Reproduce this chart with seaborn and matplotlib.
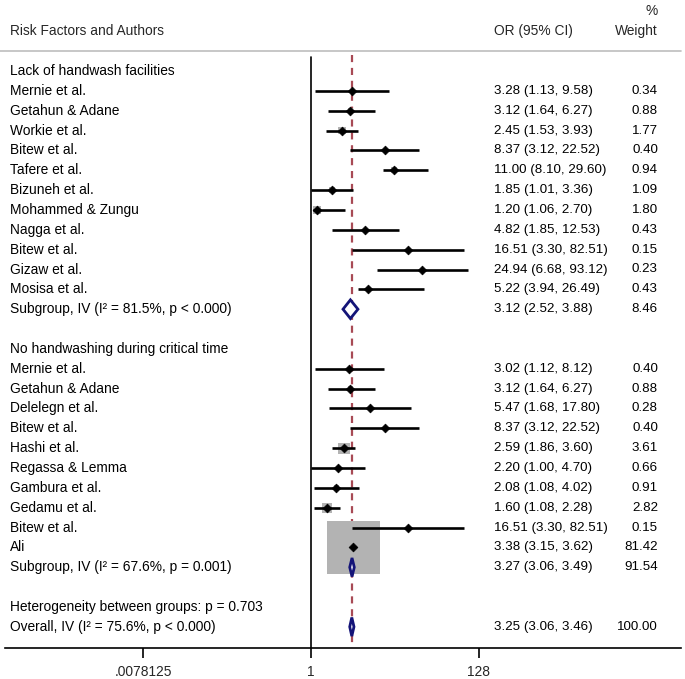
import matplotlib
matplotlib.use("Agg")
import matplotlib.pyplot as plt
import matplotlib.transforms as mtransforms
import seaborn as sns
import numpy as np
import pandas as pd

# ---------------- data ----------------
group1_name = "Lack of handwash facilities"
group1_authors = ["Mernie et al.", "Getahun & Adane", "Workie et al.", "Bitew et al.",
                  "Tafere et al.", "Bizuneh et al.", "Mohammed & Zungu", "Nagga et al.",
                  "Bitew et al.", "Gizaw et al.", "Mosisa et al."]
group1_or = [3.28, 3.12, 2.45, 8.37, 11.00, 1.85, 1.20, 4.82, 16.51, 24.94, 5.22]
group1_lo = [1.13, 1.64, 1.53, 3.12, 8.10, 1.01, 1.06, 1.85, 3.30, 6.68, 3.94]
group1_hi = [9.58, 6.27, 3.93, 22.52, 29.60, 3.36, 2.70, 12.53, 82.51, 93.12, 26.49]
group1_w = [0.34, 0.88, 1.77, 0.40, 0.94, 1.09, 1.80, 0.43, 0.15, 0.23, 0.43]
group1_pool = (3.12, 2.52, 3.88, 8.46)
group1_label = "Subgroup, IV (I\u00b2 = 81.5%, p < 0.000)"

group2_name = "No handwashing during critical time"
group2_authors = ["Mernie et al.", "Getahun & Adane", "Delelegn et al.", "Bitew et al.",
                  "Hashi et al.", "Regassa & Lemma", "Gambura et al.", "Gedamu et al.",
                  "Bitew et al.", "Ali"]
group2_or = [3.02, 3.12, 5.47, 8.37, 2.59, 2.20, 2.08, 1.60, 16.51, 3.38]
group2_lo = [1.12, 1.64, 1.68, 3.12, 1.86, 1.00, 1.08, 1.08, 3.30, 3.15]
group2_hi = [8.12, 6.27, 17.80, 22.52, 3.60, 4.70, 4.02, 2.28, 82.51, 3.62]
group2_w = [0.40, 0.88, 0.28, 0.40, 3.61, 0.66, 0.91, 2.82, 0.15, 81.42]
group2_pool = (3.27, 3.06, 3.49, 91.54)
group2_label = "Subgroup, IV (I\u00b2 = 67.6%, p = 0.001)"

heterogeneity_label = "Heterogeneity between groups: p = 0.703"
overall_label = "Overall, IV (I\u00b2 = 75.6%, p < 0.000)"
overall_pool = (3.25, 3.06, 3.46, 100.00)

x_ticks = [2.0 ** -7, 1, 2.0 ** 7]
x_tick_labels = [".0078125", "1", "128"]

# ---------------- build table ----------------
rows = []
r = 0
rows.append(dict(row=r, kind="header", label=group1_name)); r += 1
for a, o, l, h, w in zip(group1_authors, group1_or, group1_lo, group1_hi, group1_w):
    rows.append(dict(row=r, kind="study", label=a, OR=o, lo=l, hi=h, w=w)); r += 1
rows.append(dict(row=r, kind="pool", label=group1_label, OR=group1_pool[0], lo=group1_pool[1],
                 hi=group1_pool[2], w=group1_pool[3])); r += 1
r += 1
rows.append(dict(row=r, kind="header", label=group2_name)); r += 1
for a, o, l, h, w in zip(group2_authors, group2_or, group2_lo, group2_hi, group2_w):
    rows.append(dict(row=r, kind="study", label=a, OR=o, lo=l, hi=h, w=w)); r += 1
rows.append(dict(row=r, kind="pool", label=group2_label, OR=group2_pool[0], lo=group2_pool[1],
                 hi=group2_pool[2], w=group2_pool[3])); r += 1
r += 1
rows.append(dict(row=r, kind="header", label=heterogeneity_label)); r += 1
rows.append(dict(row=r, kind="pool", label=overall_label, OR=overall_pool[0], lo=overall_pool[1],
                 hi=overall_pool[2], w=overall_pool[3])); r += 1
df = pd.DataFrame(rows)
studies = df[df.kind == "study"]
pools = df[df.kind == "pool"]

# ---------------- style ----------------
sns.set_theme(style="white")
plt.rcParams['font.family'] = ['Liberation Sans', 'DejaVu Sans']
FS = 9.9
FS_NUM = 9.6

W, H = 685, 679
fig = plt.figure(figsize=(W / 100, H / 100), dpi=100)

# pixel geometry
x_left_px, x_right_px = 5, 681
axis_y_px = 648
row0_px = 71.0
row_step = 19.85
one_px = 311.0
px_per_log2 = 24.0

ax = fig.add_axes([x_left_px / W, 1 - axis_y_px / H, (x_right_px - x_left_px) / W, axis_y_px / H])
ax.set_xscale('log', base=2)
ax.set_xlim(2 ** ((x_left_px - one_px) / px_per_log2), 2 ** ((x_right_px - one_px) / px_per_log2))
y_bottom = (axis_y_px - row0_px) / row_step
y_top = (0 - row0_px) / row_step
ax.set_ylim(y_bottom, y_top)

for s in ["top", "right", "left"]:
    ax.spines[s].set_visible(False)
ax.spines["bottom"].set_color("black")
ax.spines["bottom"].set_linewidth(1.2)
ax.set_yticks([])
ax.set_xticks(x_ticks)
ax.set_xticklabels(x_tick_labels, fontsize=FS)
ax.xaxis.set_minor_locator(matplotlib.ticker.NullLocator())
ax.tick_params(axis='x', direction='out', length=7, width=1.2, color='black', pad=5, bottom=True)

# header line
header_row = (51 - row0_px) / row_step
ax.axhline(header_row, color="#bdbdbd", lw=1.2, xmin=-x_left_px / (x_right_px - x_left_px),
           xmax=1.0, clip_on=False)

# null line at 1
line_top = (57 - row0_px) / row_step
ax.plot([1, 1], [line_top, y_bottom], color="black", lw=1.2)

# overall dashed line
ax.plot([overall_pool[0], overall_pool[0]], [(55 - row0_px) / row_step, y_bottom],
        color="#a84a55", lw=1.6, ls=(0, (3.2, 2.6)), zorder=2)

# weight boxes (area proportional to weight)
px_per_sqrtw = 5.87
side_pt = px_per_sqrtw * np.sqrt(studies.w.values) * 0.72
ax.scatter(studies.OR, studies.row, marker="s", s=side_pt ** 2, color="#b3b3b3",
           edgecolor="none", zorder=3)

# CIs
ax.hlines(studies.row, studies.lo, studies.hi, color="black", lw=1.9, zorder=4)
sns.scatterplot(x=studies.OR, y=studies.row, marker="D", s=20, color="black",
                edgecolor="black", linewidth=0.5, ax=ax, zorder=5, legend=False)
ax.set_xlabel(""); ax.set_ylabel("")

# pooled diamonds
half_h = 0.47
for _, p in pools.iterrows():
    xs = [p.lo, p.OR, p.hi, p.OR, p.lo]
    ys = [p.row, p.row - half_h, p.row, p.row + half_h, p.row]
    ax.fill(xs, ys, facecolor="white", edgecolor="#141478", lw=2.0, zorder=6)

# ---------------- text columns ----------------
tr_label = mtransforms.blended_transform_factory(fig.transFigure, ax.transData)
x_lab = 10 / W
x_or = 494 / W
x_w = 658 / W
for _, rr in df.iterrows():
    ax.text(x_lab, rr.row, rr.label, transform=tr_label, ha="left", va="center",
            fontsize=FS, color="black")
    if rr.kind in ("study", "pool"):
        ax.text(x_or, rr.row, f"{rr.OR:.2f} ({rr.lo:.2f}, {rr.hi:.2f})", transform=tr_label,
                ha="left", va="center", fontsize=FS_NUM, color="black")
        ax.text(x_w, rr.row, f"{rr.w:.2f}", transform=tr_label, ha="right", va="center",
                fontsize=FS_NUM, color="black")

fig.text(x_lab, 1 - 31 / H, "Risk Factors and Authors", ha="left", va="center", fontsize=FS)
fig.text(x_or, 1 - 31 / H, "OR (95% CI)", ha="left", va="center", fontsize=FS)
fig.text(658 / W, 1 - 31 / H, "Weight", ha="right", va="center", fontsize=FS)
fig.text(652 / W, 1 - 11 / H, "%", ha="center", va="center", fontsize=FS)

fig.savefig("out.png", dpi=100, facecolor="white")
